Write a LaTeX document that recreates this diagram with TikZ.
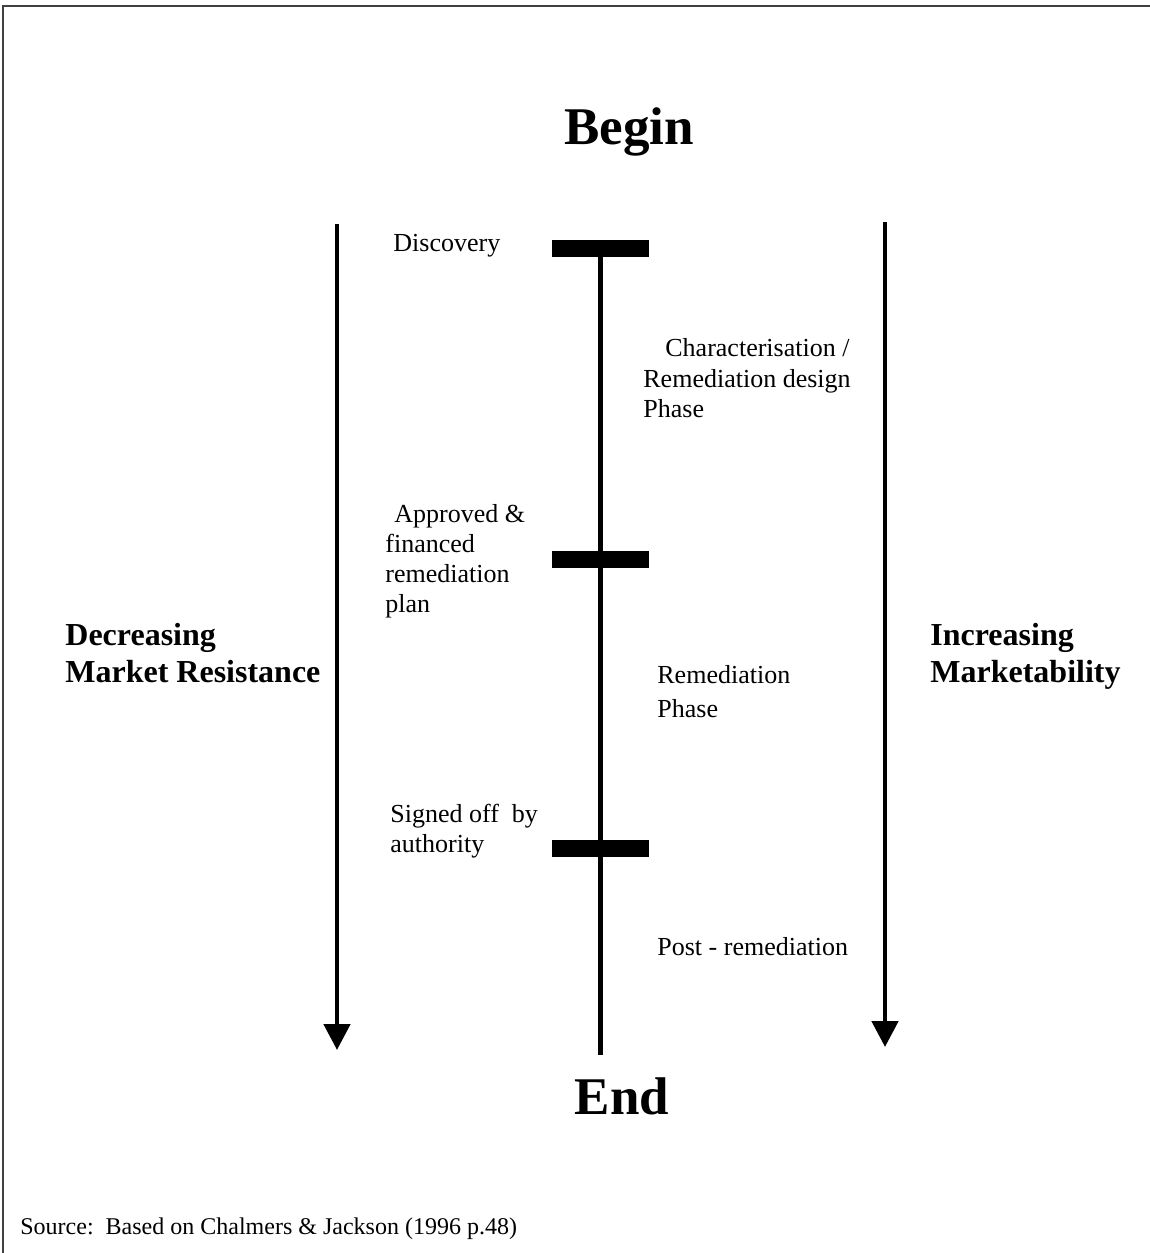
\documentclass[tikz,border=0pt]{standalone}
\usepackage{fontspec}
\setmainfont{Liberation Serif}
\usetikzlibrary{arrows.meta}
\begin{document}
\begin{tikzpicture}[x=0.5pt,y=-0.5pt,
  lbl/.style={font=\fontsize{13}{15.5}\selectfont, inner sep=0pt, anchor=base west},
  side/.style={font=\fontsize{16}{18.5}\selectfont\bfseries, inner sep=0pt, anchor=base west},
  big/.style={font=\fontsize{26.5}{30}\selectfont\bfseries, inner sep=0pt, anchor=base},
  src/.style={font=\fontsize{12}{14}\selectfont, inner sep=0pt, anchor=base west},
  bar/.style={fill=black, draw=none, minimum width=48.5pt, minimum height=8.5pt, inner sep=0pt},
  axis/.style={line width=2.4pt, -{Triangle[length=13pt,width=13pt]}},
  frame/.style={draw=black!75, line width=1pt}]
\useasboundingbox (0,0) rectangle (1150,1253);
% frame (top and left edges)
\coordinate (f1) at (3,1253);
\coordinate (f2) at (3,6);
\coordinate (f3) at (1150,6);
\draw[frame] (f1) -- (f2) -- (f3);
% titles
\node[big] (begin) at (629,144) {Begin};
\node[big] (end) at (622,1114) {End};
% side arrows
\coordinate (la1) at (337,224);
\coordinate (la2) at (337,1050);
\coordinate (ra1) at (885,222);
\coordinate (ra2) at (885,1047);
\draw[axis] (la1) -- (la2);
\draw[axis] (ra1) -- (ra2);
% central time line
\node[bar] (b1) at (600.5,248.5) {};
\node[bar] (b2) at (600.5,559) {};
\node[bar] (b3) at (600.5,848) {};
\coordinate (cend) at (600.5,1055);
\draw[line width=2.5pt] (b1.center) -- (cend);
% milestone labels
\node[lbl] (disc) at (393,251) {Discovery};
\node[lbl] (ch1) at (665,356) {Characterisation /};
\node[lbl] (ch2) at (643,387) {Remediation design};
\node[lbl] (ch3) at (643,417) {Phase};
\node[lbl] (ap1) at (394,522) {Approved \&};
\node[lbl] (ap2) at (385,552) {financed};
\node[lbl] (ap3) at (385,582) {remediation};
\node[lbl] (ap4) at (385,612) {plan};
\node[lbl] (rp1) at (657,683) {Remediation};
\node[lbl] (rp2) at (657,717) {Phase};
\node[lbl] (so1) at (390,822) {Signed off\ \ by};
\node[lbl] (so2) at (390,852) {authority};
\node[lbl] (post) at (657,955) {Post - remediation};
% side labels
\node[side] (dec1) at (65,645) {Decreasing};
\node[side] (dec2) at (65,682) {Market Resistance};
\node[side] (inc1) at (930,645) {Increasing};
\node[side] (inc2) at (930,682) {Marketability};
% source
\node[src] (source) at (20,1234) {Source:\ \ Based on Chalmers \& Jackson (1996 p.48)};
\end{tikzpicture}
\end{document}
